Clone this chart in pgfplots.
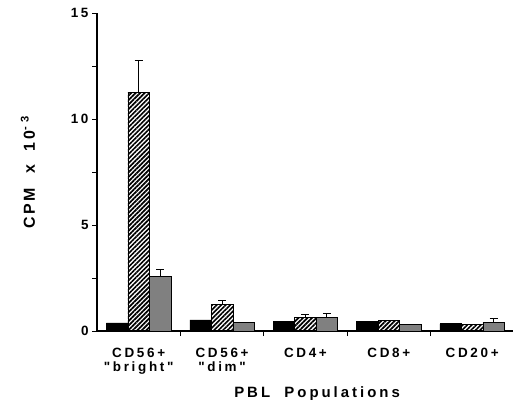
\documentclass[border=0pt]{standalone}
\usepackage{pgfplots}
\pgfplotsset{compat=1.18}
\usetikzlibrary{patterns.meta}
\usepackage{fontspec}
\setmainfont{Liberation Sans}
\newfontfamily\lab[LetterSpace=20]{Liberation Sans}
\newfontfamily\ylab[LetterSpace=16]{Liberation Sans}
\begin{document}
\begin{tikzpicture}
\useasboundingbox (0,0) rectangle (513bp,400bp);
\begin{axis}[
    at={(97bp,69bp)}, anchor=south west,
    scale only axis, width=416bp, height=318bp,
    xmin=-0.5, xmax=4.49, ymin=0, ymax=15,
    axis lines=left,
    axis line style={-, line width=1.1pt},
    ybar=0pt, bar width=21.5bp,
    xtick={0,...,4},
    xticklabels={{CD56+\\"bright"},{CD56+\\"dim"},CD4+,CD8+,CD20+},
    major x tick style={draw=none},
    minor xtick={0.5,1.5,2.5,3.5},
    ytick={0,5,10,15}, yticklabels={0,5,10,15},
    minor ytick={2.5,7.5,12.5},
    tick align=outside,
    major tick length=5bp, minor tick length=5bp,
    tick style={black, line width=0.9pt},
    ticklabel style={font=\lab\bfseries\fontsize{13.5}{14}\selectfont},
    xticklabel style={align=center, yshift=-9bp},
    xlabel={PBL\ \ Populations},
    xlabel style={font=\lab\bfseries\fontsize{15}{16}\selectfont,
        at={(axis description cs:0.529,-0.209)}, anchor=base},
    ylabel={CPM\ \ x\ \ 10\textsuperscript{-\ 3}},
    ylabel style={font=\ylab\bfseries\fontsize{16}{17}\selectfont,
        at={(axis description cs:-0.166,0.50)}, anchor=center},
    every axis plot/.append style={draw=black, line width=0.6pt},
]
% black bars
\addplot[fill=black, bar shift=-21.5bp] coordinates {
    (0,0.38) (1,0.52) (2,0.46) (3,0.44) (4,0.34)};
% hatched bars
\addplot[pattern={Lines[angle=45,distance=3.2pt,line width=1.7pt]},
    pattern color=black, bar shift=0bp] coordinates {
    (0,11.24) (1,1.26) (2,0.63) (3,0.50) (4,0.30)};
% gray bars
\addplot[fill=black!50, bar shift=21.5bp] coordinates {
    (0,2.56) (1,0.39) (2,0.64) (3,0.30) (4,0.41)};
% error bars (upward only)
\addplot[draw=none, fill=none, bar shift=0bp, forget plot,
    error bars/.cd, y dir=plus, y explicit,
    error bar style={draw=black, line width=1pt},
    error mark options={rotate=90, draw=black, line width=1pt, mark size=4bp}]
    coordinates {(0,11.24) +- (0,1.53) (1,1.26) +- (0,0.18) (2,0.63) +- (0,0.15)};
\addplot[draw=none, fill=none, bar shift=21.5bp, forget plot,
    error bars/.cd, y dir=plus, y explicit,
    error bar style={draw=black, line width=1pt},
    error mark options={rotate=90, draw=black, line width=1pt, mark size=4bp}]
    coordinates {(0,2.56) +- (0,0.35) (2,0.64) +- (0,0.19) (4,0.41) +- (0,0.18)};
\end{axis}
\end{tikzpicture}
\end{document}
